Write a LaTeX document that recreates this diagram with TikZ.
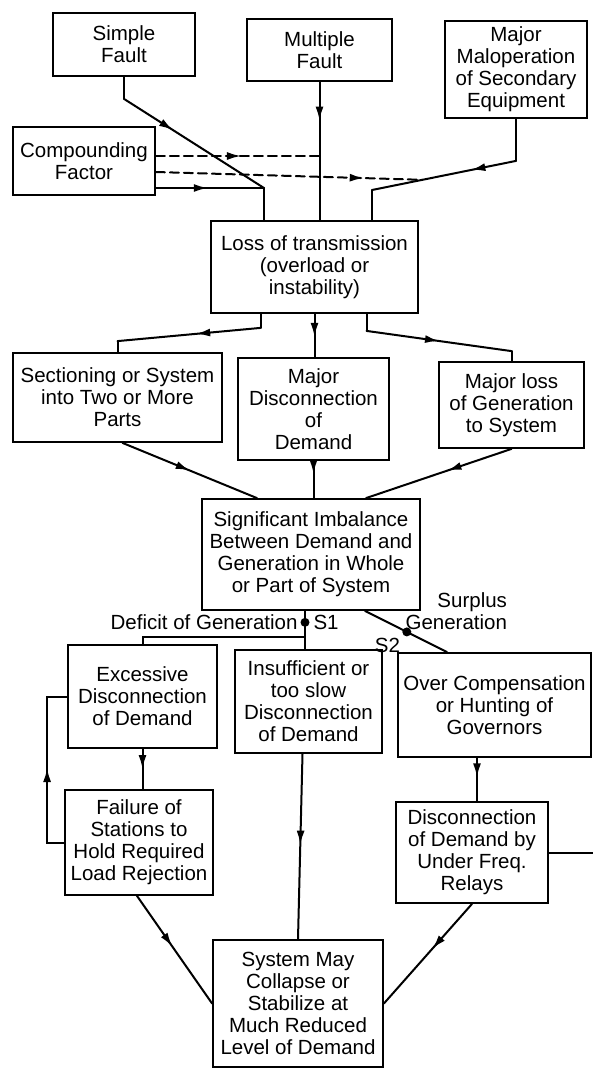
\documentclass[tikz,border=0pt]{standalone}
\usepackage{fontspec}
\setmainfont{Liberation Sans}
\usetikzlibrary{arrows.meta,positioning,decorations.markings,calc}
\tikzset{
  box/.style={draw, line width=1.8pt, align=center, inner sep=2pt, font=\fontsize{20.5}{22}\selectfont},
  arrow/.style={postaction={decorate}, decoration={markings, mark=at position #1 with {\arrow{Latex[length=14pt,width=8pt]}}}},
  arrow/.default=0.5,
  dashline/.style={dash pattern=on 9pt off 5pt},
  dot/.style={circle, fill, inner sep=0pt, minimum size=9pt},
  lbl/.style={inner sep=1pt, font=\fontsize{20.5}{22}\selectfont}
}

\begin{document}
\begin{tikzpicture}[x=1pt, y=-1pt, line width=2pt, line cap=round]
  \useasboundingbox (0,0) rectangle (593,1069);

  % causes
  \node[box, minimum width=142pt, minimum height=63pt] (sfault) at (124,44.5) {Simple\\Fault};
  \node[box, minimum width=145pt, minimum height=62pt] (mfault) at (319.5,50) {Multiple\\Fault};
  \node[box, minimum width=142pt, minimum height=97pt] (malop) at (516,69.5) {Major\\Maloperation\\of Secondary\\Equipment};
  \node[box, minimum width=142pt, minimum height=68pt] (compound) at (84,161) {Compounding\\Factor};
  \node[box, minimum width=207pt, minimum height=92pt] (losstx) at (314.5,267) {Loss of transmission\\(overload or\\instability)};

  % consequences
  \node[box, minimum width=209pt, minimum height=89pt] (section) at (117.5,397.5) {Sectioning or System\\into Two or More\\Parts};
  \node[box, minimum width=151pt, minimum height=102pt] (majdisc) at (313.5,409) {Major\\Disconnection\\of\\Demand};
  \node[box, minimum width=145pt, minimum height=86pt] (genloss) at (511.5,405) {Major loss\\of Generation\\to System};
  \node[box, minimum width=218pt, minimum height=111pt] (imbal) at (311,554.5) {Significant Imbalance\\Between Demand and\\Generation in Whole\\or Part of System};

  % responses
  \node[box, minimum width=149pt, minimum height=103pt] (excess) at (142.5,696.5) {Excessive\\Disconnection\\of Demand};
  \node[box, minimum width=147pt, minimum height=103pt] (insuff) at (308.5,701.5) {Insufficient or\\too slow\\Disconnection\\of Demand};
  \node[box, minimum width=193pt, minimum height=104pt] (overcomp) at (494.5,705) {Over Compensation\\or Hunting of\\Governors};
  \node[box, minimum width=148pt, minimum height=105pt] (failure) at (139,842.5) {Failure of\\Stations to\\Hold Required\\Load Rejection};
  \node[box, minimum width=152pt, minimum height=101pt] (ufreq) at (472,852.5) {Disconnection\\of Demand by\\Under Freq.\\Relays};
  \node[box, minimum width=170pt, minimum height=127pt] (collapse) at (298,1003.5) {System May\\Collapse or\\Stabilize at\\Much Reduced\\Level of Demand};

  % into loss of transmission
  \coordinate (jl) at (264,188);
  \coordinate (jr) at (372,190);
  \coordinate (jm) at (319.5,156);
  \draw (sfault.south) -- ++(0,22) coordinate (sbend);
  \draw[arrow=0.35] (sbend) -- (jl);
  \draw (jl) -- (jl |- losstx.north);
  \draw[arrow=0.28] (mfault.south) -- (mfault.south |- losstx.north);
  \draw (malop.south) -- ++(0,42) coordinate (mbend);
  \draw[arrow=0.31] (mbend) -- (jr);
  \draw (jr) -- (jr |- losstx.north);
  \draw[arrow=0.48] (compound.east |- jl) -- (jl);
  \draw[dashline, arrow=0.52] (compound.east |- jm) -- (jm);
  \draw[dashline, arrow=0.78] ([yshift=-11pt]compound.east) -- ($(mbend)!0.65!(jr)$);

  % out of loss of transmission
  \draw ([xshift=-54pt]losstx.south) -- ++(0,14) coordinate (lbend);
  \draw[arrow=0.45] (lbend) -- ([yshift=11pt]section.north);
  \draw ([yshift=11pt]section.north) -- (section.north);
  \draw[arrow=0.53] (losstx.south) -- (losstx.south |- majdisc.north);
  \draw ([xshift=52pt]losstx.south) -- ++(0,17) coordinate (rbend);
  \draw[arrow] (rbend) -- ([yshift=10pt]genloss.north);
  \draw ([yshift=10pt]genloss.north) -- (genloss.north);

  % into imbalance
  \draw[arrow] ([xshift=5pt]section.south) -- ([xshift=-54pt]imbal.north);
  \draw[arrow=0.35] (majdisc.south) -- (majdisc.south |- imbal.north);
  \draw[arrow=0.44] (genloss.south) -- ([xshift=55pt]imbal.north);

  % deficit and surplus branches
  \draw ([xshift=-6pt]imbal.south) -- ([xshift=-6pt]imbal.south |- insuff.north) node[dot, pos=0.3] (s1dot) {};
  \path ([xshift=-6pt]imbal.south) ++(0,26) coordinate (dsplit);
  \draw (dsplit) -| (excess.north);
  \draw ([xshift=54pt]imbal.south) -- ([xshift=-47.5pt]overcomp.north) node[dot, pos=0.51] (s2dot) {};
  \node[lbl, left=0pt of s1dot] (deficit) {Deficit of Generation};
  \node[lbl, right=1pt of s1dot] (s1) {S1};
  \node[lbl, below left=0pt and 1pt of s2dot] (s2) {S2};
  \node[lbl, align=right, anchor=south east] (surplus) at (509,632) {Surplus\\Generation};

  % towards collapse
  \draw[arrow] (excess.south) -- (excess.south |- failure.north);
  \draw[arrow] (failure.west) -- ++(-17,0) |- (excess.west);
  \draw[arrow=0.49] ([xshift=-6pt]insuff.south) -- (collapse.north);
  \draw[arrow=0.45] ([xshift=-17.5pt]overcomp.south) -- ([xshift=-17.5pt]overcomp.south |- ufreq.north);
  \draw[arrow=0.47] ([xshift=-2pt]failure.south) -- (collapse.west);
  \draw[arrow=0.45] (ufreq.south) -- (collapse.east);
  \coordinate (rim) at (593,0);
  \draw (ufreq.east) -- (ufreq.east -| rim);
\end{tikzpicture}
\end{document}
